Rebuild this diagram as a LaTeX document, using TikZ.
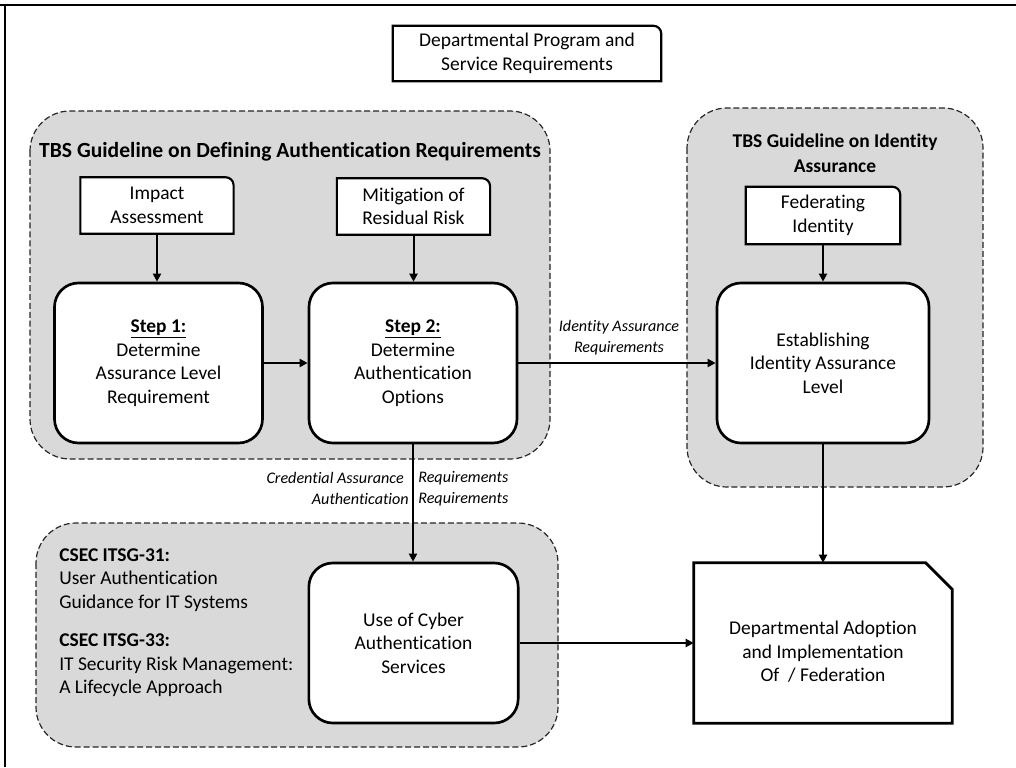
\documentclass[tikz,border=0pt]{standalone}
\usepackage{fontspec}
\setmainfont{Carlito}[Ligatures=NoCommon]
\usetikzlibrary{arrows.meta}
\pgfdeclarelayer{back}
\pgfdeclarelayer{mid}
\pgfsetlayers{back,mid,main}
\definecolor{grpgray}{HTML}{D9D9D9}
\newcommand\cornerbox[1]{%
  \begin{pgfonlayer}{mid}
  \draw[line width=1.6pt, fill=white] (#1.south west) -- (#1.north west) -- ([xshift=-6pt]#1.north east) arc[start angle=90, end angle=0, radius=6pt] -- (#1.south east) -- cycle;
  \end{pgfonlayer}}
\begin{document}
\begin{tikzpicture}[x=0.75pt,y=-0.75pt,
  grp/.style={draw=black!85, dash pattern=on 4.5pt off 2.2pt, line width=0.9pt, fill=grpgray, rounded corners=30pt},
  txt/.style={font=\fontsize{14.6}{17.7}\selectfont, align=center, inner sep=0pt},
  stepbox/.style={txt, draw, line width=2pt, fill=white, rounded corners=18pt, minimum width=156pt, minimum height=120pt},
  smallbox/.style={txt, minimum width=114.5pt, minimum height=42pt},
  arr/.style={line width=1.5pt, -{Triangle[length=6pt,width=6pt]}},
  lbl/.style={font=\fontsize{12.1}{15.75}\selectfont\itshape, inner sep=0pt},
  grptitle/.style={font=\fontsize{14.6}{18.75}\selectfont\bfseries, align=center, inner sep=0pt}]
\useasboundingbox (0,0) rectangle (1016,767);
\begin{pgfonlayer}{back}
\fill[white] (-4,-4) rectangle (1020,771);
% groups
\path[grp] (30,111) rectangle (550,459);
\path[grp] (687,108) rectangle (983,487);
\path[grp] (36,523) rectangle (558,747);
\end{pgfonlayer}
% outer frame
\draw[line width=1.7pt] (0,5) -- (1016,5);
\draw[line width=1.7pt] (5,5) -- (5,767);
% group titles
\node[grptitle, font=\fontsize{16.2}{19}\selectfont\bfseries] (t1) at (290,152) {TBS Guideline on Defining Authentication Requirements};
\node[grptitle] (t2) at (835,153) {TBS Guideline on Identity\\Assurance};
% small boxes
\node[smallbox, minimum width=201pt, minimum height=41.25pt] (top) at (527,53.5) {Departmental Program and\\Service Requirements};
\cornerbox{top}
\node[smallbox] (imp) at (157,205.5) {Impact\\Assessment};
\cornerbox{imp}
\node[smallbox] (mit) at (413.5,206.5) {Mitigation of\\Residual Risk};
\cornerbox{mit}
\node[smallbox, minimum width=115.5pt, minimum height=42.75pt] (fed) at (823,215.5) {Federating\\Identity};
\cornerbox{fed}
% step boxes
\node[stepbox] (s1) at (158.5,363) {\textbf{\underline{Step 1:}}\\Determine\\Assurance Level\\Requirement};
\node[stepbox] (s2) at (413,363) {\textbf{\underline{Step 2:}}\\Determine\\Authentication\\Options};
\node[stepbox, minimum width=159pt] (est) at (823,363) {Establishing\\Identity Assurance\\Level};
\node[stepbox, minimum width=157pt] (cyb) at (413.5,643) {Use of Cyber\\Authentication\\Services};
% departmental adoption (document with cut corner)
\node[minimum width=193.5pt, minimum height=120pt, inner sep=0pt] (dept) at (823,643) {};
\node[txt] (dtxt) at (823,652) {Departmental Adoption\\and Implementation\\Of~ / Federation};
\begin{pgfonlayer}{mid}
\draw[line width=2pt, fill=white] (dept.south west) -- (dept.north west) -- ([xshift=-20pt]dept.north east) -- ([yshift=-20pt]dept.north east) -- (dept.south east) -- cycle;
\end{pgfonlayer}
% CSEC text
\node[txt, align=left, anchor=west] (c31) at (59,580) {\textbf{CSEC ITSG-31:}\\User Authentication\\Guidance for IT Systems};
\node[txt, align=left, anchor=west] (c33) at (59,665.5) {\textbf{CSEC ITSG-33:}\\IT Security Risk Management:\\A Lifecycle Approach};
% connectors
\draw[arr] (imp.south) -- (imp.south |- s1.north);
\draw[arr] (mit.south) -- (mit.south |- s2.north);
\draw[arr] (fed.south) -- (fed.south |- est.north);
\draw[arr] (s1) -- (s2);
\draw[arr] (s2) -- (est);
\draw[arr] (s2.south) -- (s2.south |- cyb.north);
\draw[arr] (est) -- (dept);
\draw[arr] (cyb) -- (dept);
% connector labels
\node[lbl, align=center] (l5) at (619,337.5) {Identity Assurance\\Requirements};
\node[lbl, anchor=east] (l1) at (404,478) {Credential Assurance};
\node[lbl, anchor=west] (l2) at (418,478) {Requirements};
\node[lbl, anchor=east] (l3) at (409,499) {Authentication};
\node[lbl, anchor=west] (l4) at (418,499) {Requirements};
\end{tikzpicture}
\end{document}
